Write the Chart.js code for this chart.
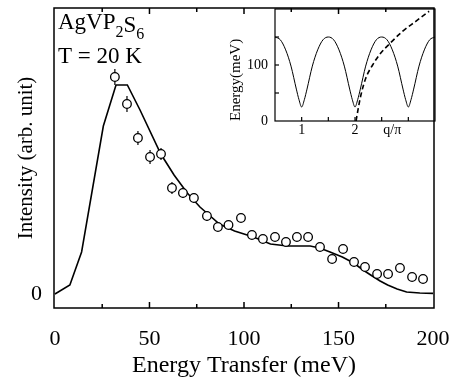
<!DOCTYPE html>
<html lang="en">
<head>
  <meta charset="UTF-8">
  <title>AgVP2S6 Intensity vs Energy Transfer</title>
  <script src="https://cdn.jsdelivr.net/npm/chart.js"></script>
  <style>
    body { margin: 0; background: #fff; }
    .wrap { position: relative; width: 459px; height: 381px; }
    .wrap canvas { position: absolute; left: 0; top: 0; }
    #inset { pointer-events: none; }
  </style>
</head>
<body>
  <div class="wrap">
    <canvas id="main" width="459" height="381"></canvas>
    <canvas id="inset" width="459" height="381"></canvas>
  </div>

  <script>
    // measured points (open circles)
    const energy = [31.7, 38.1, 43.9, 50.3, 56.1, 61.9, 67.7, 73.5, 80.4, 86.2, 91.8, 98.4, 104.2, 110,
      116.4, 122.2, 128, 133.9, 140.2, 146.6, 152.4, 158.2, 164, 170.4, 176.2, 182.5, 188.9, 194.7];
    const intensity = [108.5, 95, 78, 68.5, 70, 53, 50.5, 48, 39, 33.5, 34.5, 38, 29.5, 27.5,
      28.5, 26, 28.5, 28.5, 23.5, 17.5, 22.5, 16, 13.5, 10, 10, 13, 8.5, 7.5];
    const errors = [4, 4, 3.5, 3.5, 3, 3, 2.5, 2.5, 2.5, 2, 2, 2, 2, 2,
      2, 2, 2, 2, 2, 2, 2, 2, 2, 2, 2, 2, 2, 2];

    // calculated curve
    const fitE = [0, 7.9, 14.1, 25.6, 32.3, 38.3, 45, 56, 63, 70, 76.7, 87, 95, 105, 114, 123, 135,
      140, 145.5, 152, 158, 163, 167, 172, 176, 181, 186, 193, 200];
    const fitI = [0, 4.5, 21, 84, 104.5, 104.5, 92, 70, 59.5, 50.5, 43.5, 35, 31.5, 28.5, 25, 24, 24,
      23, 21, 18.5, 15.5, 12, 9.5, 6.5, 4.5, 2.5, 1, 0.5, 0.3];

    const xTicks = [0, 50, 100, 150, 200];
    const yTicks = [0];

    // inset: dispersion
    const insetQ = [0.5, 0.6, 0.7, 0.8, 0.9, 0.95, 1.0, 1.05, 1.1, 1.2, 1.3, 1.4, 1.5, 1.6, 1.7, 1.8,
      1.9, 1.95, 2.0, 2.05, 2.1, 2.2, 2.3, 2.4, 2.5, 2.6, 2.7, 2.8, 2.9, 2.95, 3.0, 3.05, 3.1, 3.2,
      3.3, 3.4, 3.5];
    const insetE = [150, 145, 127, 98, 57, 38, 25, 38, 57, 98, 127, 145, 150, 145, 127, 98,
      57, 38, 25, 38, 57, 98, 127, 145, 150, 145, 127, 98, 57, 38, 25, 38, 57, 98,
      127, 145, 150];
    const dashQ = [2.02, 2.06, 2.11, 2.2, 2.33, 2.48, 2.64, 2.89, 3.14, 3.39];
    const dashE = [0, 22, 46, 76, 100, 121, 137, 160, 178, 196];

    const insetXTicks = [1, 2, 2.7];
    const insetXLabels = ['1', '2', 'q/\u03c0'];
    const insetYTicks = [0, 100];

    const serif = 'Liberation Serif, Times New Roman, serif';

    // no label overflow padding, so the plot box lands where the layout says
    const noPad = s => { s.paddingTop = 0; s.paddingBottom = 0; s.paddingLeft = 0; s.paddingRight = 0; };

    const framePlugin = {
      id: 'frame',
      afterDraw(chart, args, opts) {
        const { ctx, chartArea: a, scales } = chart;
        ctx.save();
        ctx.strokeStyle = '#000';
        ctx.lineWidth = opts.width;
        ctx.strokeRect(a.left, a.top, a.right - a.left, a.bottom - a.top);
        (opts.xMarks || []).forEach(([v, len, top]) => {
          const px = scales.x.getPixelForValue(v);
          ctx.beginPath();
          ctx.moveTo(px, a.bottom); ctx.lineTo(px, a.bottom - len);
          if (top) { ctx.moveTo(px, a.top); ctx.lineTo(px, a.top + len); }
          ctx.stroke();
        });
        (opts.yMarks || []).forEach(([v, len]) => {
          const py = scales.y.getPixelForValue(v);
          ctx.beginPath();
          ctx.moveTo(a.left, py); ctx.lineTo(a.left + len, py);
          ctx.stroke();
        });
        ctx.restore();
      }
    };

    // drawn under the circles, so only the part outside each circle shows
    const errorBars = {
      id: 'errorBars',
      beforeDatasetsDraw(chart) {
        const { ctx, scales } = chart;
        ctx.save();
        ctx.strokeStyle = '#000';
        ctx.lineWidth = 1.2;
        energy.forEach((e, i) => {
          const px = scales.x.getPixelForValue(e);
          ctx.beginPath();
          ctx.moveTo(px, scales.y.getPixelForValue(intensity[i] + errors[i]));
          ctx.lineTo(px, scales.y.getPixelForValue(intensity[i] - errors[i]));
          ctx.stroke();
        });
        ctx.restore();
      }
    };

    const labelPlugin = {
      id: 'labels',
      afterDraw(chart) {
        const ctx = chart.ctx;
        ctx.save();
        ctx.fillStyle = '#000';
        ctx.textBaseline = 'alphabetic';
        let x = 58;
        const part = (t, size, y) => {
          ctx.font = size + 'px ' + serif;
          ctx.fillText(t, x, y);
          x += ctx.measureText(t).width;
        };
        part('AgVP', 23, 29);
        part('2', 16, 37);
        part('S', 23, 32);
        part('6', 16, 39);
        ctx.font = '23px ' + serif;
        ctx.fillText('T = 20 K', 58, 63);
        ctx.restore();
      }
    };

    new Chart(document.getElementById('main'), {
      type: 'scatter',
      data: {
        datasets: [{
          label: 'calc',
          data: fitE.map((e, i) => ({ x: e, y: fitI[i] })),
          showLine: true,
          borderColor: '#000',
          borderWidth: 1.6,
          pointRadius: 0,
          tension: 0,
          order: 2
        }, {
          label: 'data',
          data: energy.map((e, i) => ({ x: e, y: intensity[i] })),
          pointRadius: 4.3,
          pointBorderWidth: 1.3,
          pointBorderColor: '#000',
          pointBackgroundColor: '#fff',
          order: 1
        }]
      },
      options: {
        responsive: false,
        animation: false,
        layout: { padding: { top: 8, right: 25, left: 0, bottom: 0 } },
        plugins: {
          legend: { display: false },
          tooltip: { enabled: false },
          frame: {
            width: 1.5,
            xMarks: [[25, 4, true], [50, 6, true], [75, 4, true], [100, 6, true], [125, 4, true],
              [150, 6, true], [175, 4, true]]
          }
        },
        scales: {
          x: {
            type: 'linear',
            min: -0.5,
            max: 200.5,
            afterBuildTicks: s => { s.ticks = xTicks.map(v => ({ value: v })); },
            afterFit: s => { s.height = 73; noPad(s); },
            grid: { display: false, drawTicks: false },
            border: { display: false },
            ticks: { color: '#000', font: { family: serif, size: 22 }, padding: 18, maxRotation: 0 },
            title: {
              display: true, text: 'Energy Transfer (meV)', color: '#000',
              font: { family: serif, size: 24 }, padding: { top: 0, bottom: 1 }
            }
          },
          y: {
            min: -7,
            max: 143,
            afterBuildTicks: s => { s.ticks = yTicks.map(v => ({ value: v })); },
            afterFit: s => { s.width = 54; noPad(s); },
            grid: { display: false, drawTicks: false },
            border: { display: false },
            ticks: { color: '#000', font: { family: serif, size: 22 }, padding: 12 },
            title: {
              display: true, text: 'Intensity (arb. unit)', color: '#000',
              font: { family: serif, size: 21 }, padding: { top: 14, bottom: 0 }
            }
          }
        }
      },
      plugins: [framePlugin, errorBars, labelPlugin]
    });

    new Chart(document.getElementById('inset'), {
      type: 'scatter',
      data: {
        datasets: [{
          data: insetQ.map((q, i) => ({ x: q, y: insetE[i] })),
          showLine: true,
          borderColor: '#000',
          borderWidth: 1,
          pointRadius: 0,
          cubicInterpolationMode: 'monotone'
        }, {
          data: dashQ.map((q, i) => ({ x: q, y: dashE[i] })),
          showLine: true,
          borderColor: '#000',
          borderWidth: 1.6,
          borderDash: [5, 3],
          pointRadius: 0,
          cubicInterpolationMode: 'monotone'
        }]
      },
      options: {
        responsive: false,
        animation: false,
        layout: { padding: { top: 9, right: 24, left: 0, bottom: 0 } },
        plugins: {
          legend: { display: false },
          tooltip: { enabled: false },
          frame: {
            width: 1.2,
            xMarks: [[1, 4], [1.5, 4], [2, 4], [2.5, 4], [3, 4]],
            yMarks: [[50, 4], [100, 4], [150, 4]]
          }
        },
        scales: {
          x: {
            type: 'linear',
            min: 0.5,
            max: 3.5,
            afterBuildTicks: s => { s.ticks = insetXTicks.map(v => ({ value: v })); },
            afterFit: s => { s.height = 260; noPad(s); },
            grid: { display: false, drawTicks: false },
            border: { display: false },
            ticks: {
              color: '#000', font: { family: serif, size: 14 }, padding: 1, maxRotation: 0,
              callback: (v, i) => insetXLabels[i]
            }
          },
          y: {
            min: 0,
            max: 200,
            afterBuildTicks: s => { s.ticks = insetYTicks.map(v => ({ value: v })); },
            afterFit: s => { s.width = 275; noPad(s); },
            grid: { display: false, drawTicks: false },
            border: { display: false },
            ticks: { color: '#000', font: { family: serif, size: 14 }, padding: 7 },
            title: {
              display: true, text: 'Energy(meV)', color: '#000', align: 'start',
              font: { family: serif, size: 15 }, padding: { top: 227, bottom: 0 }
            }
          }
        }
      },
      plugins: [framePlugin]
    });
  </script>
</body>
</html>
